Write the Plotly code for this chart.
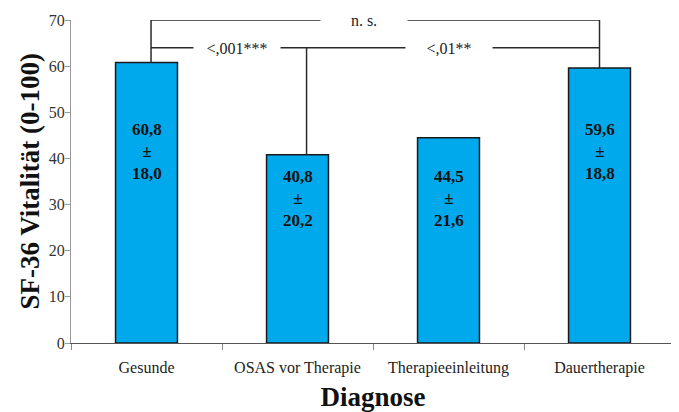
import plotly.graph_objects as go

categories = ["Gesunde", "OSAS vor Therapie", "Therapieeinleitung", "Dauertherapie"]
means = [60.8, 40.8, 44.5, 59.6]
sds = [18.0, 20.2, 21.6, 18.8]
y_ticks = [0, 10, 20, 30, 40, 50, 60, 70]

def fmt(v):
    return f"{v:.1f}".replace(".", ",")

SERIF = "Liberation Serif, Times New Roman, serif"
LINE = "#2a2a2a"

fig = go.Figure()
fig.add_trace(go.Bar(
    x=categories, y=means, width=0.41,
    marker=dict(color="#00A9EC", line=dict(color="#1a1a1a", width=1.5)),
    hoverinfo="skip", showlegend=False,
))

# value labels inside bars
label_y = [41.4, 31.4, 31.4, 41.4]
for i, (m, s) in enumerate(zip(means, sds)):
    fig.add_annotation(
        x=i, y=label_y[i], xref="x", yref="y", showarrow=False,
        text=f"<b>{fmt(m)}<br>±<br>{fmt(s)}</b>",
        font=dict(family=SERIF, size=17, color="#111"),
        align="center",
    )

# significance brackets
top_y = 70
mid_y = 64
shapes = [
    dict(type="line", x0=0.03, x1=3.0, y0=top_y, y1=top_y),
    dict(type="line", x0=0.03, x1=0.03, y0=top_y, y1=means[0]),
    dict(type="line", x0=3.0, x1=3.0, y0=top_y, y1=means[3]),
    dict(type="line", x0=0.03, x1=3.0, y0=mid_y, y1=mid_y),
    dict(type="line", x0=1.06, x1=1.06, y0=mid_y, y1=means[1]),
]
for s in shapes:
    s.update(xref="x", yref="y", line=dict(color=LINE, width=1.5))
    fig.add_shape(**s)

for txt, xx, yy in [("n. s.", 1.44, top_y), ("<,001***", 0.597, mid_y), ("<,01**", 2.0, mid_y)]:
    fig.add_annotation(
        x=xx, y=yy, xref="x", yref="y", showarrow=False, text=txt,
        font=dict(family=SERIF, size=16, color="#222"),
        bgcolor="white", width=84, height=16, yanchor="middle",
    )

# y-axis title
fig.add_annotation(
    x=-0.068, y=0.5, xref="paper", yref="paper", showarrow=False,
    text="<b>SF-36 Vitalität (0-100)</b>", textangle=-90,
    font=dict(family=SERIF, size=27, color="#111"),
    xanchor="center", yanchor="middle",
)

# invisible trace to activate tick-mark axis
fig.add_trace(go.Scatter(x=[categories[0]], y=[0], yaxis="y2", mode="markers",
                         marker=dict(opacity=0), hoverinfo="skip", showlegend=False))

fig.update_layout(
    width=671, height=404,
    margin=dict(l=63, r=4, t=12, b=69),
    paper_bgcolor="white", plot_bgcolor="white",
    font=dict(family=SERIF, color="#222"),
    xaxis=dict(
        type="category", range=[-0.5, 3.5],
        showline=True, linecolor="#555", linewidth=1,
        ticks="outside", tickson="boundaries", ticklen=6, tickcolor="#888",
        ticklabelstandoff=10,
        tickfont=dict(family=SERIF, size=16, color="#222"),
        title=dict(text="<b>Diagnose</b>", font=dict(family=SERIF, size=27, color="#111"), standoff=10),
        showgrid=False, zeroline=False, automargin=False,
    ),
    yaxis=dict(
        range=[0, 70], tickvals=y_ticks,
        showline=True, linecolor="#999", linewidth=1,
        ticks="", ticklabelstandoff=2,
        tickfont=dict(family=SERIF, size=16, color="#333"),
        showgrid=False, zeroline=False, automargin=False,
    ),
    yaxis2=dict(
        range=[0, 70], tickvals=y_ticks, overlaying="y", side="left",
        ticks="outside", ticklen=5, tickcolor="#999", showticklabels=False,
        showline=False, showgrid=False, zeroline=False, automargin=False,
    ),
)

fig.write_html("out.html")
